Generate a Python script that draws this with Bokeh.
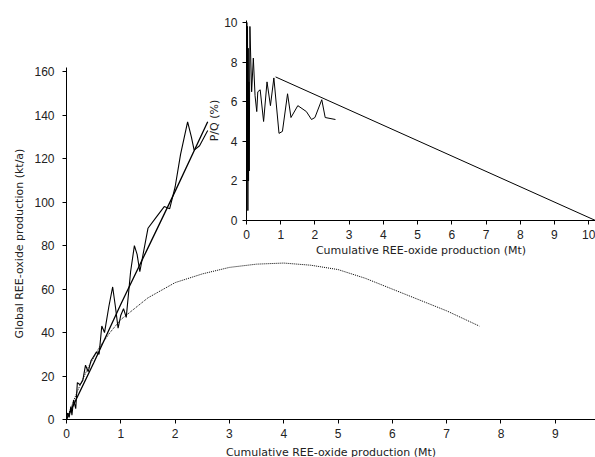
from bokeh.plotting import figure
from bokeh.layouts import column, row
from bokeh.models import Range1d, FixedTicker
from bokeh.embed import file_html
from bokeh.resources import INLINE

# main chart: production vs cumulative production
prod_x = [0, 0.02, 0.05, 0.08, 0.1, 0.13, 0.17, 0.2, 0.25, 0.3, 0.35, 0.4, 0.45, 0.55, 0.6,
          0.65, 0.7, 0.78, 0.85, 0.9, 0.95, 1.0, 1.05, 1.1, 1.18, 1.25, 1.3, 1.35, 1.5, 1.65,
          1.8, 1.9, 2.0, 2.1, 2.23, 2.3, 2.35, 2.45, 2.6]
prod_y = [0, 3, 1, 6, 2, 9, 5, 17, 16, 18, 25, 22, 27, 31, 30,
          43, 40, 52, 61, 52, 42, 48, 51, 47, 68, 80, 76, 68, 88, 93,
          98, 97, 107, 122, 137, 130, 124, 126, 133]
fit_x = [0, 0.5, 1, 1.5, 2, 2.6]
fit_y = [0, 26, 53, 79, 105, 137]
model_x = [0, 0.2, 0.4, 0.6, 0.8, 1, 1.5, 2, 2.5, 3, 3.5, 4, 4.5, 5, 5.5, 6, 6.5, 7, 7.6]
model_y = [0, 13, 24, 33, 40, 46, 56, 63, 67, 70, 71.5, 72, 71, 69, 65, 60, 55, 50, 43]

# inset: P/Q vs cumulative production
pq_x = [0, 0.01, 0.02, 0.03, 0.04, 0.05, 0.06, 0.07, 0.08, 0.1, 0.15, 0.2, 0.25, 0.3, 0.33,
        0.4, 0.5, 0.6, 0.7, 0.8, 0.95, 1.05, 1.2, 1.3, 1.5, 1.75, 1.9, 2.0, 2.2, 2.3, 2.6]
pq_y = [0, 10, 2, 9.8, 0.5, 8.7, 2, 7, 2.5, 9.8, 6.5, 8.2, 6.3, 5.5, 6.5,
        6.6, 5, 7, 5.8, 7.2, 4.4, 4.5, 6.4, 5.2, 5.8, 5.5, 5.1, 5.2, 6.1, 5.2, 5.1]
trend_x = [0.85, 10.2]
trend_y = [7.25, 0]

LABEL_FONT = "DejaVu Sans"
TICK_FONT = "Liberation Sans"


def style(f):
    f.xgrid.visible = False
    f.ygrid.visible = False
    f.outline_line_color = None
    for ax in f.axis:
        ax.axis_line_color = "black"
        ax.major_tick_line_color = "black"
        ax.minor_tick_line_color = None
        ax.major_tick_in = 0
        ax.major_tick_out = 4
        ax.major_label_text_font = TICK_FONT
        ax.major_label_text_font_size = "12px"
        ax.major_label_text_color = "#222222"
        ax.axis_label_text_font = LABEL_FONT
        ax.axis_label_text_font_size = "11px"
        ax.axis_label_text_font_style = "normal"
        ax.axis_label_text_color = "#222222"


p = figure(width=595, height=462, output_backend="svg", toolbar_location=None,
           x_range=Range1d(0, 9.74), y_range=Range1d(0, 162),
           min_border_left=66, min_border_right=0, min_border_top=67, min_border_bottom=43)
style(p)
p.xaxis.axis_label = "Cumulative REE-oxide production (Mt)"
p.yaxis.axis_label = "Global REE-oxide production (kt/a)"
p.yaxis.major_label_standoff = 8
p.xaxis.ticker = FixedTicker(ticks=list(range(10)))
p.yaxis.ticker = FixedTicker(ticks=list(range(0, 161, 20)))
p.line(model_x, model_y, color="black", line_width=1, line_dash="1 1")
p.line(fit_x, fit_y, color="black", line_width=1.3)
p.line(prod_x, prod_y, color="black", line_width=1.1)

q = figure(width=396, height=250, output_backend="svg", toolbar_location=None,
           x_range=Range1d(0, 10.2), y_range=Range1d(0, 10.1),
           min_border_left=30, min_border_right=6, min_border_top=10, min_border_bottom=40)
style(q)
q.background_fill_alpha = 0
q.border_fill_alpha = 0
q.xaxis.axis_label = "Cumulative REE-oxide production (Mt)"
q.yaxis.axis_label = "P/Q (%)"
q.yaxis.axis_label_standoff = 0
q.xaxis.axis_label_standoff = 2
q.xaxis.ticker = FixedTicker(ticks=list(range(11)))
q.yaxis.ticker = FixedTicker(ticks=list(range(0, 11, 2)))
q.line(trend_x, trend_y, color="black", line_width=1)
q.line(pq_x, pq_y, color="black", line_width=1)

inset = row(q)
inset.styles = {"position": "absolute", "left": "205px", "top": "10px"}

layout = column(p, inset)
open("out.html", "w").write(file_html(layout, INLINE))
